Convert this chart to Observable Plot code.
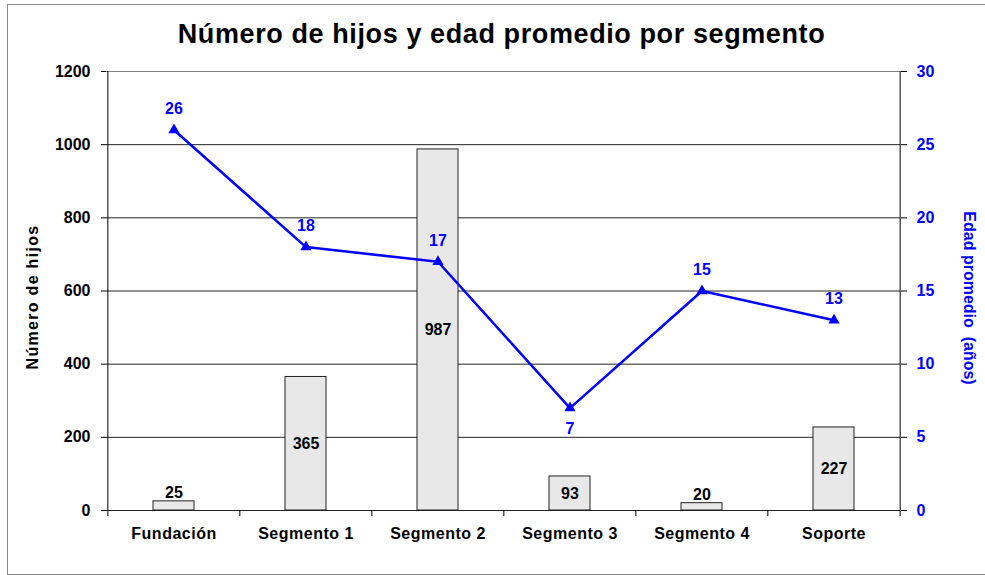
<!DOCTYPE html>
<html>
<head>
<meta charset="utf-8">
<script src="https://cdn.jsdelivr.net/npm/d3@7"></script>
<script src="https://cdn.jsdelivr.net/npm/@observablehq/plot@0.6"></script>
<style>
  html, body { margin: 0; padding: 0; background: #fff; overflow: hidden; }
  #wrap { position: relative; width: 985px; height: 575px; overflow: hidden; font-family: "Liberation Sans", Arial, sans-serif; }
  #frame { position: absolute; left: 7px; top: 4px; width: 1000px; height: 571px; border: 1px solid #8a8a8a; box-sizing: border-box; }
  #title { position: absolute; left: 0; top: 19px; width: 1003px; text-align: center; font-weight: bold; font-size: 27px; letter-spacing: 0.6px; color: #000; }
  #chart { position: absolute; left: 0; top: 50px; }
  #chart svg text.cat { letter-spacing: 0.5px; }
</style>
</head>
<body>
<div id="wrap">
  <div id="frame"></div>
  <div id="title">Número de hijos y edad promedio por segmento</div>
  <div id="chart"></div>
</div>
<script>
const categories = ["Fundación", "Segmento 1", "Segmento 2", "Segmento 3", "Segmento 4", "Soporte"];
const numeroHijos = [25, 365, 987, 93, 20, 227];
const edadPromedio = [26, 18, 17, 7, 15, 13];
const leftTicks = [0, 200, 400, 600, 800, 1000, 1200];
const rightTicks = [0, 5, 10, 15, 20, 25, 30];
const leftTitle = "Número de hijos";
const rightTitle = "Edad promedio  (años)";

const ratio = leftTicks[leftTicks.length - 1] / rightTicks[rightTicks.length - 1];
const data = categories.map((c, i) => ({cat: c, hijos: numeroHijos[i], edad: edadPromedio[i]}));
const minEdad = d3.min(edadPromedio);

const W = 985, H = 520, mL = 106, mR = 85, mT = 21, mB = 60;
const step = (W - mL - mR) / categories.length;
const blue = "#0000ff";

const chart = Plot.plot({
  width: W, height: H,
  marginTop: mT, marginBottom: mB, marginLeft: mL, marginRight: mR,
  style: {fontFamily: "'Liberation Sans', Arial, sans-serif", fontWeight: "bold", fontSize: "16px", background: "transparent", color: "#000", overflow: "visible"},
  x: {domain: categories, paddingInner: 0.69, paddingOuter: 0.345, label: null},
  y: {domain: [leftTicks[0], leftTicks[leftTicks.length - 1]], label: null},
  marks: [
    // gridlines
    Plot.ruleY(leftTicks.slice(0, -1), {stroke: "#222", strokeWidth: 1}),
    Plot.ruleY(leftTicks.slice(-1), {stroke: "#808080", strokeWidth: 1}),
    // bars
    Plot.barY(data, {x: "cat", y: "hijos", fill: "#e8e8e8", stroke: "#222", strokeWidth: 1}),
    // axis lines (left & right) and category separators
    Plot.ruleX([categories[0]], {x: d => d, dx: -step / 2, stroke: "#000", insetBottom: -6}),
    Plot.ruleX([categories[categories.length - 1]], {x: d => d, dx: step / 2, stroke: "#000", insetBottom: -6}),
    Plot.ruleX(categories.slice(1), {x: d => d, dx: -step / 2, y1: 0, y2: 0, insetBottom: -6, stroke: "#000"}),
    // left axis
    Plot.axisY(leftTicks, {anchor: "left", tickSize: 5, tickPadding: 11, label: null, tickFormat: d => String(d), stroke: "#000", fill: "#000"}),
    // right axis
    Plot.axisY(rightTicks.map(t => t * ratio), {anchor: "right", tickSize: 6, tickPadding: 10, label: null, tickFormat: d => String(d / ratio), stroke: "#000", fill: blue}),
    // x axis labels
    Plot.axisX({tickSize: 0, tickPadding: 17, label: null, fill: "#000", fontSize: 16, className: "cat"}),
    // bar labels
    Plot.text(data.filter(d => d.hijos >= 60), {x: "cat", y: d => d.hijos / 2, text: d => String(d.hijos), fill: "#000"}),
    Plot.text(data.filter(d => d.hijos < 60), {x: "cat", y: "hijos", text: d => String(d.hijos), dy: -8, fill: "#000"}),
    // line
    Plot.line(data, {x: "cat", y: d => d.edad * ratio, stroke: blue, strokeWidth: 2.5}),
    Plot.dot(data, {x: "cat", y: d => d.edad * ratio, symbol: "triangle", r: 4.2, fill: blue, stroke: null}),
    Plot.text(data.filter(d => d.edad !== minEdad), {x: "cat", y: d => d.edad * ratio, text: d => String(d.edad), dy: -21, fill: blue}),
    Plot.text(data.filter(d => d.edad === minEdad), {x: "cat", y: d => d.edad * ratio, text: d => String(d.edad), dy: 21, fill: blue}),
    // axis titles
    Plot.text([leftTitle], {frameAnchor: "left", textAnchor: "middle", text: d => d, dx: -74, dy: 6, rotate: -90, fill: "#000", fontSize: 16, className: "ytitle"}),
    Plot.text([rightTitle], {frameAnchor: "right", textAnchor: "middle", text: d => d, dx: 69, dy: 7, rotate: 90, fill: blue, fontSize: 16})
  ]
});
document.getElementById("chart").appendChild(chart);
chart.querySelectorAll("g.ytitle text").forEach(t => t.style.letterSpacing = "1.3px");
chart.querySelectorAll("g.cat text").forEach(t => t.style.letterSpacing = "0.5px");
chart.querySelectorAll("text").forEach(t => { if (t.textContent.includes("  ")) t.setAttribute("xml:space", "preserve"), t.style.whiteSpace = "pre"; });
</script>
</body>
</html>
